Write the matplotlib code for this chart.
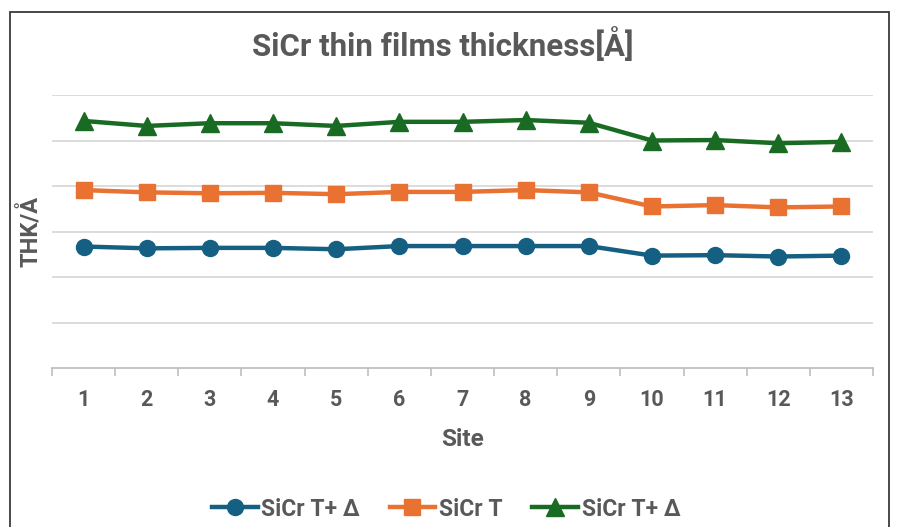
import matplotlib
matplotlib.use("Agg")
import matplotlib.pyplot as plt
from matplotlib.patches import Rectangle

plt.rcParams['font.family'] = ['Roboto', 'DejaVu Sans']

sites = list(range(1, 13 + 1))
site_labels = [str(s) for s in sites]

sicr_t_minus = [2.67, 2.63, 2.64, 2.64, 2.61, 2.68, 2.68, 2.68, 2.68, 2.47, 2.48, 2.45, 2.47]
sicr_t = [3.91, 3.86, 3.84, 3.85, 3.82, 3.87, 3.87, 3.91, 3.86, 3.55, 3.58, 3.53, 3.55]
sicr_t_plus = [5.43, 5.32, 5.38, 5.38, 5.32, 5.41, 5.41, 5.45, 5.39, 5.00, 5.01, 4.94, 4.97]

series_names = ["SiCr T+ Δ", "SiCr T", "SiCr T+ Δ"]

TEXT = "#595959"
W, H = 897, 527
fig = plt.figure(figsize=(W / 100, H / 100), dpi=100)
fig.patch.set_facecolor("white")

# outer chart frame
fig.patches.append(Rectangle((10 / W, -0.05), (889 - 10) / W, (H - 12) / H + 0.05,
                             transform=fig.transFigure, fill=False,
                             edgecolor="#3a3a3a", linewidth=1.3, zorder=0))

left, right, top, bottom = 52, 873, 95, 368
ax = fig.add_axes([left / W, 1 - bottom / H, (right - left) / W, (bottom - top) / H])

ax.plot(sites, sicr_t_minus, color="#156082", lw=3.2, marker="o", ms=11.5,
        label=series_names[0], zorder=3)
ax.plot(sites, sicr_t, color="#E97132", lw=3.2, marker="s", ms=11.5,
        label=series_names[1], zorder=3)
ax.plot(sites, sicr_t_plus, color="#196B24", lw=3.2, marker="^", ms=13,
        label=series_names[2], zorder=3)

ax.set_xlim(0.5, 13.5)
ax.set_ylim(0, 6)
ax.set_yticks([1, 2, 3, 4, 5, 6])
ax.yaxis.grid(True, color="#D9D9D9", lw=1.3)
ax.tick_params(axis="y", left=False, labelleft=False)
ax.set_axisbelow(True)

ax.set_xticks(sites)
ax.set_xticklabels(site_labels, fontsize=15.5, fontweight="bold", color=TEXT)
ax.set_xticks([s + 0.5 for s in [0] + sites], minor=True)
ax.tick_params(axis="x", which="major", length=0, pad=15)
ax.tick_params(axis="x", which="minor", length=6, width=1.2, color="#BFBFBF", direction="out")

for side in ["top", "right", "left"]:
    ax.spines[side].set_visible(False)
ax.spines["bottom"].set_color("#BFBFBF")
ax.spines["bottom"].set_linewidth(1.3)

ax.set_xlabel("Site", fontsize=17.5, fontweight="bold", color=TEXT, labelpad=12)
ax.set_ylabel("THK/Å", fontsize=17, fontweight="bold", color=TEXT, labelpad=7)

fig.text(443 / W, 1 - 45 / H, "SiCr thin films thickness[Å]", ha="center", va="center",
         fontsize=22.5, fontweight="bold", color=TEXT)

handles, labels = ax.get_legend_handles_labels()
leg = fig.legend(handles, labels, loc="center", bbox_to_anchor=(446 / W, 1 - 509 / H),
                 ncol=3, frameon=False, handlelength=2.0, handletextpad=0.15,
                 columnspacing=1.3, prop={"size": 16.5, "weight": "bold"})
for t in leg.get_texts():
    t.set_color(TEXT)

fig.savefig("out.png", dpi=100, facecolor="white")
